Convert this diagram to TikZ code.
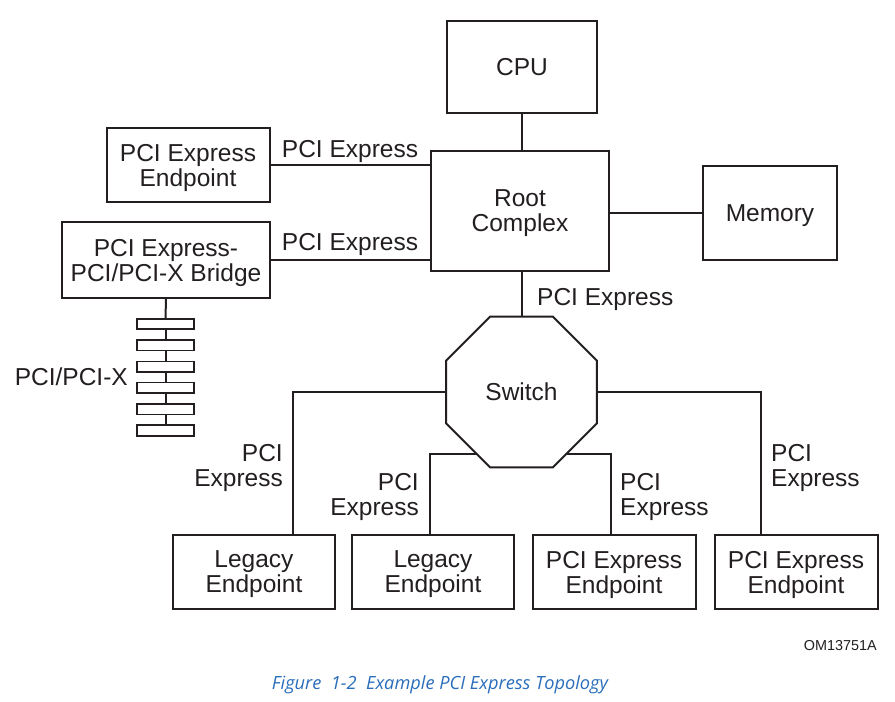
\documentclass[tikz,border=0pt]{standalone}
\usepackage{fontspec}
\setmainfont{Liberation Sans}
\newfontfamily\capfont{Open Sans}
\usetikzlibrary{shapes.geometric,backgrounds,calc}
\definecolor{ink}{HTML}{231F20}
\definecolor{capblue}{HTML}{2A6EBB}
\newcommand\mainfs{\fontsize{24.5}{25}\selectfont}
\begin{document}
\begin{tikzpicture}[x=1pt,y=-1pt,
  shapebox/.style={draw=ink,line width=2pt,inner sep=0pt,align=center,font=\mainfs,text=ink,fill=white},
  box/.style={shapebox,text depth=0pt},
  lbl/.style={inner sep=0pt,font=\mainfs,text=ink,text depth=0pt},
  wire/.style={draw=ink,line width=2pt},
  busrect/.style={draw=ink,line width=1.6pt,fill=white,inner sep=0pt,minimum width=57pt,minimum height=10.5pt}]
\useasboundingbox (0,0) rectangle (895,702);

% boxes
\node[box,minimum width=150pt,minimum height=92pt] (cpu) at (522,67) {CPU};
\node[box,minimum width=178pt,minimum height=120pt] (root) at (520,211) {Root\\Complex};
\node[box,minimum width=134pt,minimum height=94pt] (mem) at (770,213) {Memory};
\node[box,minimum width=163pt,minimum height=74pt] (pep) at (188,165) {PCI Express\\Endpoint};
\node[box,minimum width=208pt,minimum height=76pt] (bridge) at (166,260) {PCI Express-\\PCI/PCI-X Bridge};
\node[box,minimum width=162pt,minimum height=74pt] (le1) at (254,572) {Legacy\\Endpoint};
\node[box,minimum width=162pt,minimum height=74pt] (le2) at (433,572) {Legacy\\Endpoint};
\node[box,minimum width=163pt,minimum height=74pt] (pe3) at (614,572) {PCI Express\\Endpoint};
\node[box,minimum width=163pt,minimum height=74pt] (pe4) at (796,572) {PCI Express\\Endpoint};

% switch
\node[shapebox,regular polygon,regular polygon sides=8,minimum size=163.4pt] (switch) at (521.5,392) {Switch};
\coordinate (swlow) at ($(switch.center)+(0,62)$);

% bus ladder
\foreach \i in {1,...,6}{
  \node[busrect] (bus\i) at (165.5,{324+21.3*(\i-1)}) {};
}

% connectors
\begin{scope}[on background layer]
\fill[white] (0,0) rectangle (895,702);
\draw[wire] (cpu.south) -- (cpu.south |- root.north);
\draw[wire] (root.east |- mem.west) -- (mem.west);
\draw[wire] (pep.east) -- (pep.east -| root.west);
\draw[wire] (bridge.east) -- (bridge.east -| root.west);
\draw[wire] (root.south -| switch.north) -- (switch.north);
\draw[wire] ([xshift=39pt]le1.north) |- (switch.west);
\draw[wire] ([xshift=-35pt]pe4.north) |- (switch.east);
\draw[wire] ([xshift=-3pt]le2.north) |- (swlow);
\draw[wire] ([xshift=-3pt]pe3.north) |- (swlow);
\draw[wire] (bridge.south) -- (bus1.north);
\foreach \i [evaluate=\i as \j using int(\i+1)] in {1,...,5}{
  \draw[wire] (bus\i.south) -- (bus\j.north);
}
\end{scope}

% labels
\node[lbl] (l1) at (350,149) {PCI Express};
\node[lbl] (l2) at (350,242) {PCI Express};
\node[lbl,anchor=west] (l3) at (537,297) {PCI Express};
\node[lbl,anchor=east] (l4) at (128,377) {PCI/PCI-X};
\node[lbl,anchor=east,align=right] (l5) at (283,465) {PCI\\Express};
\node[lbl,anchor=east,align=right] (l6) at (419,494) {PCI\\Express};
\node[lbl,anchor=west,align=left] (l7) at (620,494) {PCI\\Express};
\node[lbl,anchor=west,align=left] (l8) at (771,465) {PCI\\Express};

\node[lbl,font=\fontsize{14.4}{16}\selectfont,anchor=east] (om) at (877,645) {OM13751A};
\node[inner sep=0pt,text=capblue,font=\capfont\itshape\fontsize{18.2}{21}\selectfont] (cap) at (440,685) {Figure\ \ 1-2\ \ Example PCI Express Topology};
\end{tikzpicture}
\end{document}
